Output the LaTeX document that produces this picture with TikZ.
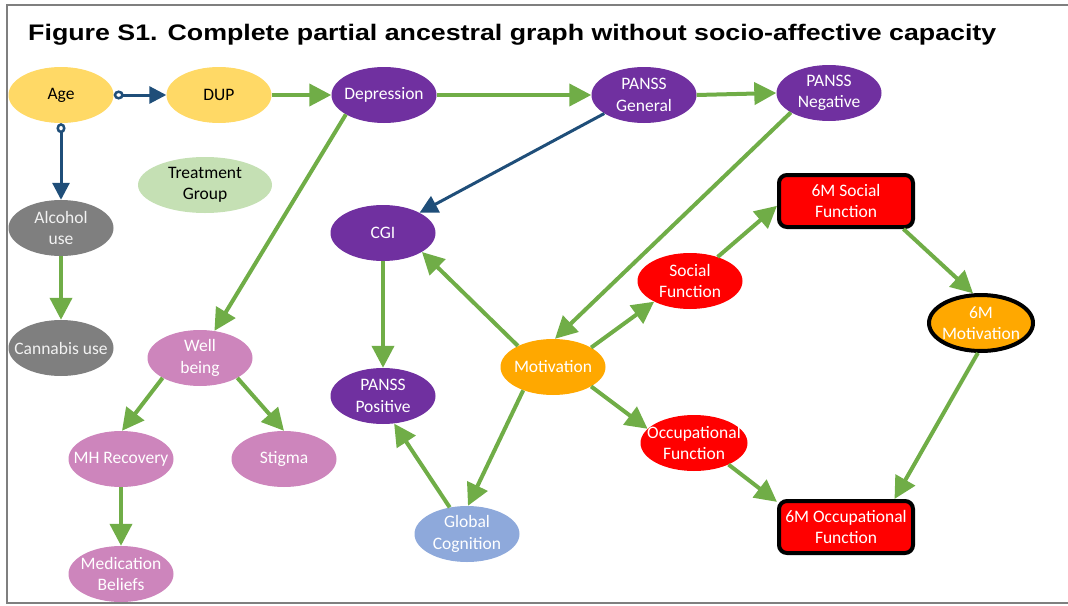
\documentclass[tikz,border=0pt]{standalone}
\usepackage{graphicx}
\usepackage{fontspec}
\setmainfont{Carlito}
\newfontfamily\titlefont{Liberation Sans}
\usetikzlibrary{shapes.geometric,arrows.meta}

\definecolor{cyel}{HTML}{FFD966}
\definecolor{cpur}{HTML}{7030A0}
\definecolor{cgrn}{HTML}{70AD47}
\definecolor{cblu}{HTML}{1F4E79}
\definecolor{ctg}{HTML}{C5E0B4}
\definecolor{cgry}{HTML}{7F7F7F}
\definecolor{cpink}{HTML}{CD85BC}
\definecolor{corg}{HTML}{FFA800}
\definecolor{cgc}{HTML}{8EA9DB}
\definecolor{cframe}{HTML}{7F7F7F}

\begin{document}
\begin{tikzpicture}[x=1pt,y=-1pt,
  every node/.style={font=\fontsize{17.5}{21.5}\selectfont, align=center},
  var/.style={ellipse, inner xsep=-30pt, inner ysep=-12pt,
    minimum width=105pt, minimum height=56pt, text=white},
  rbox/.style={rectangle, rounded corners=8pt, draw=black, line width=4pt,
    fill=red, text=white, inner sep=0pt, minimum width=134pt, minimum height=52pt},
  gedge/.style={draw=cgrn, line width=4pt, -{Triangle[length=22pt,width=22pt]}},
  bedge/.style={draw=cblu, line width=3pt, -{Triangle[length=18pt,width=18pt]}},
  bcedge/.style={draw=cblu, line width=3pt,
    {Circle[open,length=10pt,width=9pt,line width=2.5pt,fill=white]}-{Triangle[length=17pt,width=17pt]}}
]
\useasboundingbox (0,0) rectangle (1068,605);

% frame
\draw[cframe, line width=1.5pt] (1068,5) -- (7,5) -- (7,603) -- (1068,603);

% title
\node[anchor=base west, inner sep=0pt, font=\titlefont\bfseries\fontsize{22.5}{27}\selectfont] (title) at (28,40)
  {\scalebox{1.19}[1]{Figure S1. Complete partial ancestral graph without socio-affective capacity}};

% variables
\node[var, fill=cyel, text=black] (age) at (61,95) {Age};
\node[var, fill=cyel, text=black] (dup) at (219,95) {DUP};
\node[var, fill=cpur] (dep) at (384,95) {Depression};
\node[var, fill=cpur] (pg) at (644,95) {PANSS\\General};
\node[var, fill=cpur] (pn) at (829,93) {PANSS\\Negative};
\node[var, fill=ctg, text=black, minimum width=134pt] (tg) at (205,185) {Treatment\\Group};
\node[var, fill=cgry, text=white!95!black] (alc) at (61,228) {Alcohol\\use};
\node[var, fill=cpur] (cgi) at (383,233) {CGI};
\node[rbox] (smsf) at (846,201) {6M Social\\Function};
\node[var, fill=red] (sf) at (690,281) {Social\\Function};
\node[var, fill=cgry, text=white!95!black] (can) at (61,348) {Cannabis use};
\node[var, fill=cpink] (wb) at (200,358) {Well\\being};
\node[var, fill=corg, draw=black, line width=4pt, minimum width=104pt, minimum height=56pt] (smm) at (981,323) {6M\\Motivation};
\node[var, fill=corg] (mot) at (553,367) {Motivation};
\node[var, fill=cpur] (pp) at (383,396) {PANSS\\Positive};
\node[var, fill=cpink] (mh) at (121,459) {MH Recovery};
\node[var, fill=cpink] (stg) at (284,459) {Stigma};
\node[var, fill=red, minimum width=107pt] (of) at (694,443) {Occupational\\Function};
\node[rbox] (smo) at (846,527) {6M Occupational\\Function};
\node[var, fill=cgc] (gc) at (467,534) {Global\\Cognition};
\node[var, fill=cpink] (mb) at (121,574) {Medication\\Beliefs};

% edges
\draw[bcedge] (age.east) -- (dup.west);
\draw[bcedge] (age.south) -- (alc.north);
\draw[gedge] (dup.east) -- (dep.west);
\draw[gedge] (dep.east) -- (pg.west);
\draw[gedge] (pg.east) -- (pn.west);
\draw[bedge] (pg.-155) -- (cgi.29);
\draw[gedge] (dep.-153) -- (wb.62);
\draw[gedge] (pn.-153) -- (mot.86);
\draw[gedge] (cgi.south) -- (pp.north);
\draw[gedge] (mot.149) -- (cgi.-26);
\draw[gedge] (mot.27) -- (sf.-150);
\draw[gedge] (sf.41) -- (smsf.-176);
\draw[gedge] (smsf.-26.6) -- (smm.105);
\draw[gedge] (smm.-96) -- (smo.30);
\draw[gedge] (mot.-27) -- (of.163);
\draw[gedge] (of.-32) -- (smo.160);
\draw[gedge] (mot.-142) -- (gc.88);
\draw[gedge] (gc.123) -- (pp.-68);
\draw[gedge] (wb.-152) -- (mh.88);
\draw[gedge] (wb.-28) -- (stg.north);
\draw[gedge] (alc.south) -- (can.north);
\draw[gedge] (mh.south) -- (mb.north);
\end{tikzpicture}
\end{document}
